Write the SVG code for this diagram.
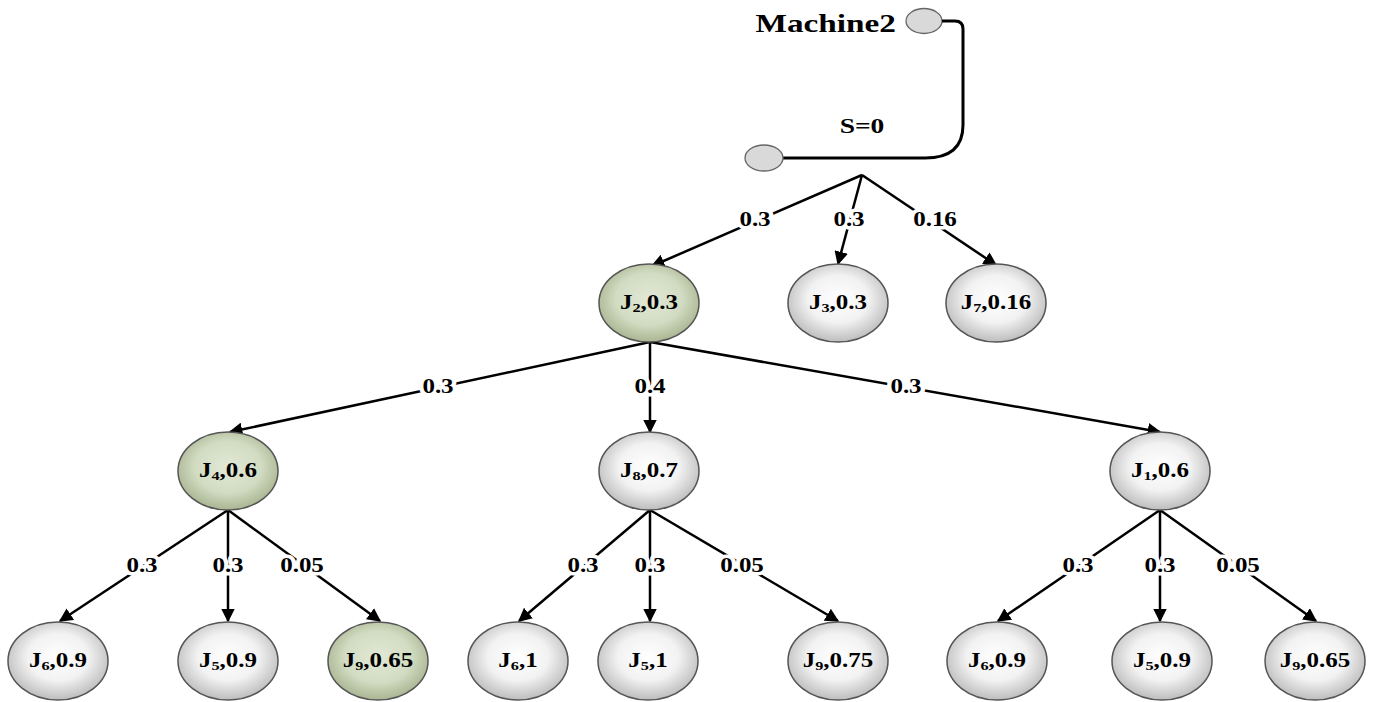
<svg xmlns="http://www.w3.org/2000/svg" width="1376" height="702" viewBox="0 0 1376 702">
<defs>
<radialGradient id="gg" cx="50%" cy="45%" r="55%">
<stop offset="0" stop-color="#ffffff"/><stop offset="0.55" stop-color="#f2f2f2"/><stop offset="1" stop-color="#bdbdbd"/>
</radialGradient>
<radialGradient id="gn" cx="50%" cy="45%" r="55%">
<stop offset="0" stop-color="#e2e8d6"/><stop offset="0.6" stop-color="#d2dcc2"/><stop offset="1" stop-color="#a9b592"/>
</radialGradient>
<marker id="ah" viewBox="0 0 10 10" refX="9" refY="5" markerWidth="5.5" markerHeight="5.5" orient="auto" markerUnits="strokeWidth">
<path d="M0,0 L10,5 L0,10 z" fill="#000"/>
</marker>
<style>
.e{stroke:#000;stroke-width:2.5;fill:none;marker-end:url(#ah)}
.n{stroke:#555;stroke-width:1.5}
.g{fill:url(#gg)}
.gr{fill:url(#gn)}
.t{font-family:"Liberation Serif",serif;font-weight:bold;font-size:20px;text-anchor:middle;fill:#000}
.l{font-family:"Liberation Serif",serif;font-weight:bold;font-size:20px;text-anchor:middle;fill:#000;stroke:#fff;stroke-width:7;paint-order:stroke;stroke-linejoin:round}
.s{font-size:13px}
</style>
</defs>
<rect width="1376" height="702" fill="#fff"/>
<g id="header">
<text transform="translate(896 32) scale(1.28 1)" font-family="Liberation Serif,serif" font-weight="bold" font-size="26" text-anchor="end">Machine2</text>
<ellipse cx="924" cy="21" rx="18" ry="12.5" fill="#d9d9d9" stroke="#666" stroke-width="1.3"/>
<path d="M942,21 H955 Q963,21 963,29 V125 Q963,158 925,158 H783" fill="none" stroke="#000" stroke-width="3"/>
<ellipse cx="764" cy="158" rx="19" ry="13" fill="#d9d9d9" stroke="#666" stroke-width="1.3"/>
<text transform="translate(862 133) scale(1.25 1)" font-family="Liberation Serif,serif" font-weight="bold" font-size="22" text-anchor="middle">S=0</text>
</g>
<g id="connectors">
<line class="e" x1="862" y1="175" x2="652" y2="266"/>
<line class="e" x1="862" y1="175" x2="838" y2="264"/>
<line class="e" x1="862" y1="175" x2="996" y2="265"/>
<line class="e" x1="650" y1="342" x2="230" y2="432"/>
<line class="e" x1="650" y1="342" x2="650" y2="432"/>
<line class="e" x1="650" y1="342" x2="1160" y2="432"/>
<line class="e" x1="228" y1="510" x2="60" y2="621"/>
<line class="e" x1="228" y1="510" x2="228" y2="621"/>
<line class="e" x1="228" y1="510" x2="380" y2="621"/>
<line class="e" x1="650" y1="510" x2="519" y2="621"/>
<line class="e" x1="650" y1="510" x2="650" y2="621"/>
<line class="e" x1="650" y1="510" x2="838" y2="621"/>
<line class="e" x1="1160" y1="510" x2="998" y2="621"/>
<line class="e" x1="1160" y1="510" x2="1160" y2="621"/>
<line class="e" x1="1160" y1="510" x2="1316" y2="621"/>
<text class="l" transform="translate(755 226) scale(1.25 1)">0.3</text>
<text class="l" transform="translate(849 226) scale(1.25 1)">0.3</text>
<text class="l" transform="translate(935 226) scale(1.25 1)">0.16</text>
<text class="l" transform="translate(438 393) scale(1.25 1)">0.3</text>
<text class="l" transform="translate(650 393) scale(1.25 1)">0.4</text>
<text class="l" transform="translate(906 393) scale(1.25 1)">0.3</text>
<text class="l" transform="translate(142 572) scale(1.25 1)">0.3</text>
<text class="l" transform="translate(228 572) scale(1.25 1)">0.3</text>
<text class="l" transform="translate(302 572) scale(1.25 1)">0.05</text>
<text class="l" transform="translate(583 572) scale(1.25 1)">0.3</text>
<text class="l" transform="translate(650 572) scale(1.25 1)">0.3</text>
<text class="l" transform="translate(742 572) scale(1.25 1)">0.05</text>
<text class="l" transform="translate(1078 572) scale(1.25 1)">0.3</text>
<text class="l" transform="translate(1160 572) scale(1.25 1)">0.3</text>
<text class="l" transform="translate(1238 572) scale(1.25 1)">0.05</text>
</g>
<g id="J2"><ellipse class="n gr" cx="649" cy="303" rx="50" ry="39"/><text class="t" transform="translate(649 309) scale(1.25 1)">J<tspan class="s" dy="3">2</tspan><tspan dy="-3">,0.3</tspan></text></g>
<g id="J3"><ellipse class="n g" cx="838" cy="303" rx="50" ry="39"/><text class="t" transform="translate(838 309) scale(1.25 1)">J<tspan class="s" dy="3">3</tspan><tspan dy="-3">,0.3</tspan></text></g>
<g id="J7"><ellipse class="n g" cx="996" cy="303" rx="50" ry="39"/><text class="t" transform="translate(996 309) scale(1.25 1)">J<tspan class="s" dy="3">7</tspan><tspan dy="-3">,0.16</tspan></text></g>
<g id="J4"><ellipse class="n gr" cx="228" cy="471" rx="50" ry="39"/><text class="t" transform="translate(228 477) scale(1.25 1)">J<tspan class="s" dy="3">4</tspan><tspan dy="-3">,0.6</tspan></text></g>
<g id="J8"><ellipse class="n g" cx="649" cy="471" rx="50" ry="39"/><text class="t" transform="translate(649 477) scale(1.25 1)">J<tspan class="s" dy="3">8</tspan><tspan dy="-3">,0.7</tspan></text></g>
<g id="J1"><ellipse class="n g" cx="1160" cy="471" rx="50" ry="39"/><text class="t" transform="translate(1160 477) scale(1.25 1)">J<tspan class="s" dy="3">1</tspan><tspan dy="-3">,0.6</tspan></text></g>
<g id="J6a"><ellipse class="n g" cx="58" cy="661" rx="50" ry="39"/><text class="t" transform="translate(58 667) scale(1.25 1)">J<tspan class="s" dy="3">6</tspan><tspan dy="-3">,0.9</tspan></text></g>
<g id="J5a"><ellipse class="n g" cx="228" cy="661" rx="50" ry="39"/><text class="t" transform="translate(228 667) scale(1.25 1)">J<tspan class="s" dy="3">5</tspan><tspan dy="-3">,0.9</tspan></text></g>
<g id="J9a"><ellipse class="n gr" cx="378" cy="661" rx="50" ry="39"/><text class="t" transform="translate(378 667) scale(1.25 1)">J<tspan class="s" dy="3">9</tspan><tspan dy="-3">,0.65</tspan></text></g>
<g id="J6b"><ellipse class="n g" cx="518" cy="661" rx="50" ry="39"/><text class="t" transform="translate(518 667) scale(1.25 1)">J<tspan class="s" dy="3">6</tspan><tspan dy="-3">,1</tspan></text></g>
<g id="J5b"><ellipse class="n g" cx="648" cy="661" rx="50" ry="39"/><text class="t" transform="translate(648 667) scale(1.25 1)">J<tspan class="s" dy="3">5</tspan><tspan dy="-3">,1</tspan></text></g>
<g id="J9b"><ellipse class="n g" cx="838" cy="661" rx="50" ry="39"/><text class="t" transform="translate(838 667) scale(1.25 1)">J<tspan class="s" dy="3">9</tspan><tspan dy="-3">,0.75</tspan></text></g>
<g id="J6c"><ellipse class="n g" cx="997" cy="661" rx="50" ry="39"/><text class="t" transform="translate(997 667) scale(1.25 1)">J<tspan class="s" dy="3">6</tspan><tspan dy="-3">,0.9</tspan></text></g>
<g id="J5c"><ellipse class="n g" cx="1162" cy="661" rx="50" ry="39"/><text class="t" transform="translate(1162 667) scale(1.25 1)">J<tspan class="s" dy="3">5</tspan><tspan dy="-3">,0.9</tspan></text></g>
<g id="J9c"><ellipse class="n g" cx="1315" cy="661" rx="50" ry="39"/><text class="t" transform="translate(1315 667) scale(1.25 1)">J<tspan class="s" dy="3">9</tspan><tspan dy="-3">,0.65</tspan></text></g>
</svg>
